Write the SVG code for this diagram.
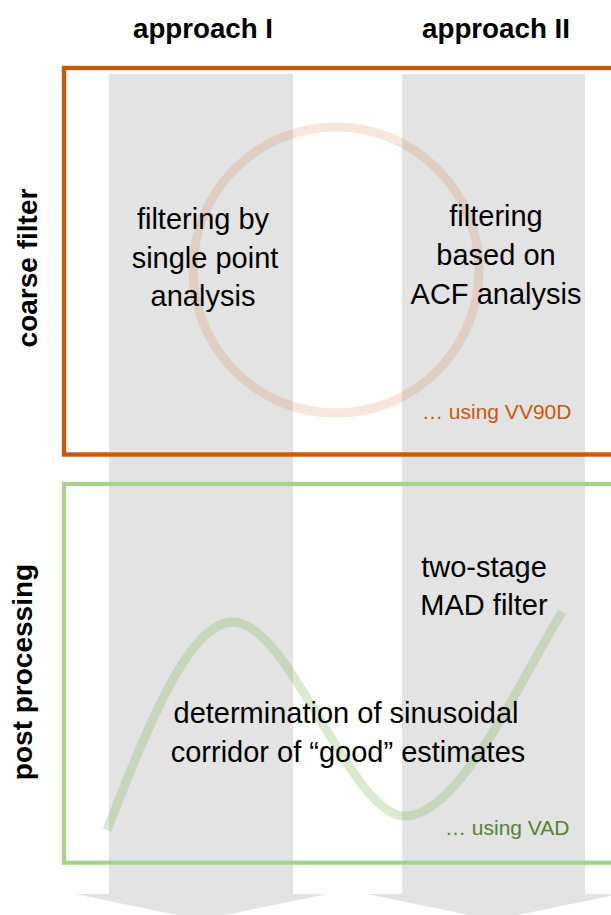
<svg xmlns="http://www.w3.org/2000/svg" width="611" height="915" viewBox="0 0 611 915">
  <style>
    .col { fill: #E3E3E3; }
    .band-coarse { fill: none; stroke: #C55A11; stroke-width: 4.4; }
    .band-post { fill: none; stroke: #A9D18E; stroke-width: 4.2; }
    .head { font-family: "Liberation Sans", Arial, sans-serif; font-weight: bold; font-size: 28px; fill: #000; }
    .body { font-family: "Liberation Sans", Arial, sans-serif; font-size: 29px; fill: #000; text-anchor: middle; }
    .note { font-family: "Liberation Sans", Arial, sans-serif; font-size: 21px; }
    .deco-circle { fill: none; stroke: #C55A11; stroke-opacity: 0.15; stroke-width: 9; }
    .deco-wave { fill: none; stroke: #70AD47; stroke-opacity: 0.25; stroke-width: 9; stroke-linecap: butt; }
  </style>

  <rect width="611" height="915" fill="#FFFFFF"/>

  <!-- Flow arrows, one per approach column -->
  <g id="flow-arrows">
    <polygon id="column-approach-1" class="col" points="109,74 293,74 293,894 327,894 201,920 75,894 109,894"/>
    <polygon id="column-approach-2" class="col" points="402,74 585,74 585,894 620,894 493.5,920 367,894 402,894"/>
  </g>

  <!-- Decorative shapes -->
  <g id="decoration">
    <circle class="deco-circle" cx="336" cy="270" r="143"/>
    <path class="deco-wave" d="M107,830 C150,720 190,622 233,622 C290,622 350,816 405,816 C460,816 520,680 562,612"/>
  </g>

  <!-- Stage bands -->
  <g id="band-coarse-filter">
    <rect class="band-coarse" x="64" y="68" width="570" height="386.5"/>
  </g>
  <g id="band-post-processing">
    <rect class="band-post" x="64" y="484" width="570" height="378.7"/>
  </g>

  <!-- Column headings -->
  <g id="heading-approach-1">
    <text class="head" x="133" y="38" textLength="140" lengthAdjust="spacingAndGlyphs">approach I</text>
  </g>
  <g id="heading-approach-2">
    <text class="head" x="422" y="38" textLength="148" lengthAdjust="spacingAndGlyphs">approach II</text>
  </g>

  <!-- Row headings -->
  <g id="heading-coarse-filter">
    <text class="head" transform="translate(37,268) rotate(-90)" text-anchor="middle" x="0" y="0">coarse filter</text>
  </g>
  <g id="heading-post-processing">
    <text class="head" transform="translate(32,672) rotate(-90)" text-anchor="middle" x="0" y="0">post processing</text>
  </g>

  <!-- Coarse filter, approach I -->
  <g id="node-single-point">
    <text class="body" x="203" y="229">filtering by</text>
    <text class="body" x="205" y="268">single point</text>
    <text class="body" x="203" y="306">analysis</text>
  </g>

  <!-- Coarse filter, approach II -->
  <g id="node-acf">
    <text class="body" x="496" y="226">filtering</text>
    <text class="body" x="496" y="265">based on</text>
    <text class="body" x="496" y="304">ACF analysis</text>
  </g>

  <g id="note-vv90d">
    <text class="note" x="422" y="419" fill="#C55A11">… using VV90D</text>
  </g>

  <!-- Post processing -->
  <g id="node-mad">
    <text class="body" x="484" y="577">two-stage</text>
    <text class="body" x="484" y="615">MAD filter</text>
  </g>

  <g id="node-corridor">
    <text class="body" x="346" y="723">determination of sinusoidal</text>
    <text class="body" x="348" y="762">corridor of “good” estimates</text>
  </g>

  <g id="note-vad">
    <text class="note" x="445" y="835" fill="#548235">… using VAD</text>
  </g>
</svg>
